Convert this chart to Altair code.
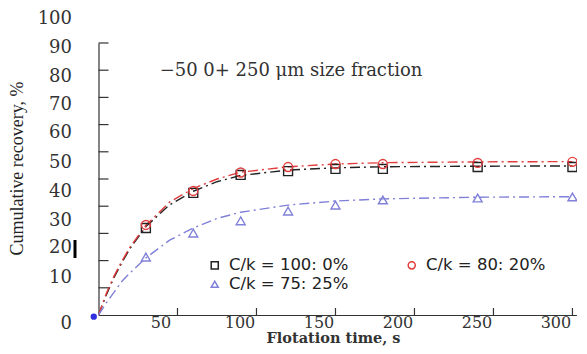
import altair as alt
import pandas as pd

series = ["C/k = 100: 0%", "C/k = 80: 20%", "C/k = 75: 25%"]
colors = ["#222222", "#e23c3c", "#8080d8"]
shapes = ["square", "circle", "triangle-up"]

# measured points
times = [30, 60, 90, 120, 150, 180, 240, 300]
rec_100 = [32.0, 44.9, 51.5, 52.9, 53.7, 53.7, 54.4, 54.4]
rec_80 = [33.1, 45.6, 52.4, 54.4, 55.5, 55.5, 55.9, 56.3]
rec_75 = [21.3, 30.1, 34.6, 38.2, 40.4, 42.3, 43.0, 43.4]

# fitted curves
t_fit = [0, 5, 10, 15, 20, 30, 45, 60, 75, 90, 120, 150, 180, 240, 300]
fit_100 = [0, 7.5, 14, 19.5, 24.5, 32.5, 40.5, 45.5, 49, 51.3, 53.3, 54.1, 54.5, 54.7, 54.8]
fit_80 = [0, 8, 14.5, 20, 25, 33, 41.5, 46.5, 50, 52.5, 54.5, 55.5, 56, 56.3, 56.4]
fit_75 = [0, 4.5, 8.5, 12.5, 15.5, 21, 27.5, 32, 35.5, 37.8, 40.4, 41.9, 42.7, 43.3, 43.5]

origin_t = [-3]
origin_r = [-0.6]

y_ticks = [10, 20, 30, 40, 50, 60, 70, 80, 90, 100]
y_labels = [0, 10, 20, 30, 40, 50, 60, 70, 80, 90, 100]
x_ticks = [50, 100, 150, 200, 250, 300]

annotation = "\u221250 0+ 250 \u03bcm size fraction"

pts = pd.DataFrame({
    "t": times * 3,
    "r": rec_100 + rec_80 + rec_75,
    "series": [series[0]] * 8 + [series[1]] * 8 + [series[2]] * 8,
})
fits = pd.DataFrame({
    "t": t_fit * 3,
    "r": fit_100 + fit_80 + fit_75,
    "series": [series[0]] * len(t_fit) + [series[1]] * len(t_fit) + [series[2]] * len(t_fit),
})
orig = pd.DataFrame({"t": origin_t, "r": origin_r})

W = 478.7
H = 272

xscale = alt.Scale(domain=[0, 303], nice=False, zero=False)
yscale = alt.Scale(domain=[0, 100], nice=False)

label_offsets = [
    {"test": "datum.value == 0", "value": 9},
    {"test": "datum.value == 100", "value": -25},
    {"test": "datum.value == 90", "value": -23},
    {"test": "datum.value == 80", "value": -21},
    {"test": "datum.value == 70", "value": -20},
    {"test": "datum.value == 60", "value": -19},
    {"test": "datum.value == 50", "value": -17},
    {"test": "datum.value == 40", "value": -15},
    {"test": "datum.value == 10", "value": -10},
]

xaxis = alt.Axis(
    values=x_ticks, ticks=False, tickSize=0, grid=False, labelPadding=0,
    labelOffset=-17, labelFont="DejaVu Serif", labelFontSize=16, labelColor="#333",
    labelOverlap=False,
    domainColor="#333", domainWidth=1.2,
    title="Flotation time, s", titleFont="DejaVu Serif", titleFontSize=14.5,
    titleFontWeight="bold", titleColor="#333", titleX=234.5, titleY=24,
    titleBaseline="middle", titleAlign="center",
)
yaxis = alt.Axis(
    values=y_labels, ticks=False, tickSize=0, grid=False, labelPadding=27,
    labelOffset={"condition": label_offsets, "value": -13},
    labelOverlap=False,
    labelFont="DejaVu Serif", labelFontSize=18, labelColor="#333",
    domainColor="#333", domainWidth=1.2,
    title="Cumulative  recovery, %", titleFont="Liberation Serif", titleFontSize=18,
    titleFontWeight="normal", titleColor="#222", titleX=-81, titleY=125,
    titleBaseline="middle", titleAlign="center", titleAngle=-90,
)

X = lambda f: alt.X(f, scale=xscale, axis=xaxis)
Y = lambda f: alt.Y(f, scale=yscale, axis=yaxis)

line_layers = []
for s, c in zip(series, colors):
    line_layers.append(
        alt.Chart(fits).transform_filter(alt.datum.series == s)
        .mark_line(strokeDash=[10, 4, 2, 4], strokeWidth=1.4, color=c)
        .encode(x=X("t:Q"), y=Y("r:Q"))
    )

leg = alt.Legend(
    title=None, orient="none", legendX=108, legendY=214, columns=2, columnPadding=55,
    direction="horizontal",
    rowPadding=2, padding=0, labelFont="DejaVu Sans", labelFontSize=16.5,
    labelColor="#222", symbolSize=50, symbolStrokeWidth=1.5, labelOffset=6,
)

points = alt.Chart(pts).mark_point(filled=False, size=80, strokeWidth=1.4, opacity=1).encode(
    x=X("t:Q"),
    y=Y("r:Q"),
    color=alt.Color("series:N", scale=alt.Scale(domain=series, range=colors), legend=leg),
    shape=alt.Shape("series:N", scale=alt.Scale(domain=series, range=shapes), legend=leg),
)

origin = alt.Chart(orig).mark_point(filled=True, size=40, color="#3030e0", opacity=1).encode(
    x=X("t:Q"),
    y=Y("r:Q"),
)

ytick_df = pd.DataFrame({"t": [0] * len(y_ticks), "r": y_ticks})
yt = alt.Chart(ytick_df).mark_rule(color="#333", strokeWidth=1.2).encode(
    y=Y("r:Q"), x=alt.value(0), x2=alt.value(10)
)
xtick_df = pd.DataFrame({"t": x_ticks})
xt = alt.Chart(xtick_df).mark_rule(color="#333", strokeWidth=1.2).encode(
    x=X("t:Q"), y=alt.value(H), y2=alt.value(H - 7)
)

note = alt.Chart(pd.DataFrame({"label": [annotation]})).mark_text(
    font="DejaVu Serif", fontSize=18, color="#333", align="center", baseline="middle"
).encode(text="label:N", x=alt.value(192.5), y=alt.value(28))

bar = alt.Chart(pd.DataFrame({"a": [0]})).mark_rule(color="#000", strokeWidth=3).encode(
    x=alt.value(-23.5), y=alt.value(197), y2=alt.value(215)
)

chart = alt.layer(*line_layers, points, origin, yt, xt, note, bar).properties(
    width=W, height=H,
    autosize=alt.AutoSizeParams(type="none"),
    padding={"left": 90.5, "top": 35, "right": 0, "bottom": 31},
).configure_view(stroke=None).configure_axis(labelOverlap=False)

chart.save("out.html", embed_options={"renderer": "svg", "actions": False})
